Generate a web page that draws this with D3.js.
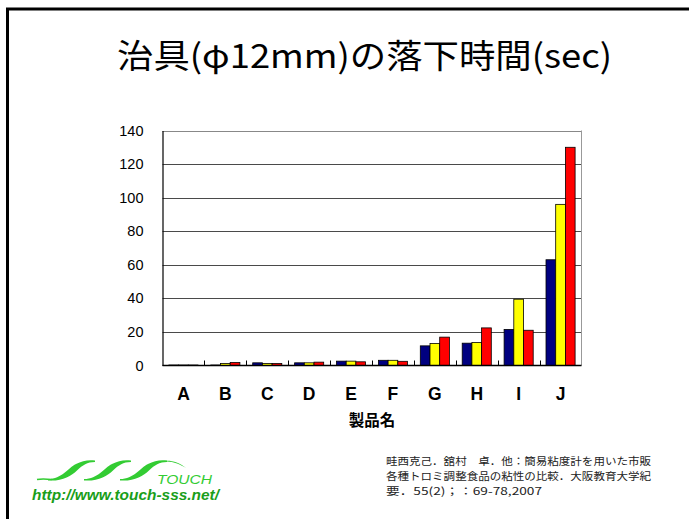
<!DOCTYPE html>
<html>
<head>
<meta charset="utf-8">
<script src="https://cdn.jsdelivr.net/npm/d3@7"></script>
<style>
  html, body { margin: 0; padding: 0; background: #fff; }
  svg { display: block; }
</style>
</head>
<body>
<svg id="chart" width="689" height="519"></svg>
<script>
// Products and the three measured drop times (sec) for each
const categories = ["A", "B", "C", "D", "E", "F", "G", "H", "I", "J"];
const seriesNames = ["系列1", "系列2", "系列3"];
const series1 = [0.3, 0.3, 1.6, 1.6, 2.6, 3.1, 11.7, 13.3, 21.5, 63];
const series2 = [0.3, 1.2, 1.2, 1.6, 2.6, 3.1, 13.1, 13.7, 39.5, 96];
const series3 = [0.3, 1.8, 1.2, 2.0, 2.2, 2.5, 16.9, 22.4, 21, 130];
const seriesColors = ["#000080", "#ffff00", "#ff0000"];
const yTicks = [0, 20, 40, 60, 80, 100, 120, 140];

const titleText = "治具(φ12mm)の落下時間(sec)";
const xAxisTitle = "製品名";
const citation = [
  "畦西克己．舘村　卓．他：簡易粘度計を用いた市販",
  "各種トロミ調整食品の粘性の比較．大阪教育大学紀",
  "要．55(2)；：69-78,2007"
];
const citationWidths = [265, 265, 156];
const url = "http://www.touch-sss.net/";

(function draw() {
  const rows = categories.map((c, i) => ({
    category: c,
    values: [series1[i], series2[i], series3[i]].map((v, k) => ({ key: seriesNames[k], value: v, k }))
  }));

  const svg = d3.select("#chart");

  // slide frame (top and left edges)
  svg.append("path")
    .attr("d", "M7.5,519 L7.5,9 L689,9")
    .attr("fill", "none").attr("stroke", "#000").attr("stroke-width", 3);

  // title
  svg.append("text")
    .attr("x", 364.5).attr("y", 68)
    .attr("text-anchor", "middle")
    .attr("font-family", "'Noto Sans CJK JP', sans-serif")
    .attr("font-size", 33)
    .attr("textLength", 495).attr("lengthAdjust", "spacingAndGlyphs")
    .attr("fill", "#000")
    .text(titleText);

  // plot area
  const pLeft = 162.5, pRight = 581.5, pTop = 130.5, pBottom = 365.5;

  const y = d3.scaleLinear().domain([0, 140]).range([pBottom, pTop]);
  const x0 = d3.scaleBand().domain(categories).range([pLeft, pRight]).padding(0);
  const x1 = d3.scaleBand().domain(seriesNames).range([0, x0.bandwidth()])
    .paddingInner(0).paddingOuter(0.66);

  const g = svg.append("g");

  // horizontal gridlines
  g.selectAll("line.grid").data(yTicks.filter(t => t > 0)).join("line")
    .attr("class", "grid")
    .attr("x1", pLeft).attr("x2", pRight)
    .attr("y1", d => Math.round(y(d)) + 0.5).attr("y2", d => Math.round(y(d)) + 0.5)
    .attr("stroke", d => d === 140 ? "#888" : "#4a4a4a").attr("stroke-width", 1);

  // right border of plot
  g.append("line")
    .attr("x1", pRight).attr("x2", pRight).attr("y1", pTop).attr("y2", pBottom)
    .attr("stroke", "#999").attr("stroke-width", 1);

  // bars
  const groups = g.selectAll("g.cat").data(rows).join("g")
    .attr("class", "cat")
    .attr("transform", d => `translate(${x0(d.category)},0)`);

  groups.selectAll("rect").data(d => d.values).join("rect")
    .attr("x", d => x1(d.key))
    .attr("width", x1.bandwidth())
    .attr("y", d => y(d.value))
    .attr("height", d => y(0) - y(d.value))
    .attr("fill", d => seriesColors[d.k])
    .attr("stroke", "#000").attr("stroke-width", 0.8);

  // y axis (labels with the axis line)
  const yAxis = d3.axisLeft(y).tickValues(yTicks).tickSize(0).tickPadding(19);
  const yg = g.append("g").attr("transform", `translate(${pLeft},0)`).call(yAxis);
  yg.select(".domain").attr("stroke", "#000").attr("stroke-width", 1.2);
  yg.selectAll("text")
    .attr("font-family", "'Liberation Sans', Arial, sans-serif")
    .attr("font-size", 14.5)
    .attr("fill", "#000");

  // x axis: line with inward ticks at category boundaries
  g.append("line")
    .attr("x1", pLeft).attr("x2", pRight).attr("y1", pBottom).attr("y2", pBottom)
    .attr("stroke", "#000").attr("stroke-width", 1.5);
  const boundaries = categories.slice(1).map(c => x0(c));
  g.selectAll("line.xtick").data(boundaries).join("line")
    .attr("class", "xtick")
    .attr("x1", d => Math.round(d) + 0.5).attr("x2", d => Math.round(d) + 0.5)
    .attr("y1", pBottom).attr("y2", pBottom - 5)
    .attr("stroke", "#000").attr("stroke-width", 1);

  g.selectAll("text.xlab").data(categories).join("text")
    .attr("class", "xlab")
    .attr("x", d => x0(d) + x0.bandwidth() / 2)
    .attr("y", 400)
    .attr("text-anchor", "middle")
    .attr("font-family", "'Liberation Sans', Arial, sans-serif")
    .attr("font-weight", "bold")
    .attr("font-size", 17.5)
    .attr("fill", "#000")
    .text(d => d);

  svg.append("text")
    .attr("x", (pLeft + pRight) / 2).attr("y", 426)
    .attr("text-anchor", "middle")
    .attr("font-family", "'Noto Sans CJK JP', sans-serif")
    .attr("font-weight", "bold")
    .attr("font-size", 15.5)
    .attr("fill", "#000")
    .text(xAxisTitle);

  // citation
  svg.append("g").selectAll("text").data(citation).join("text")
    .attr("x", 386)
    .attr("y", (d, i) => 465 + i * 15)
    .attr("font-family", "'Noto Sans CJK JP', sans-serif")
    .attr("font-size", 10.5)
    .attr("textLength", (d, i) => citationWidths[i])
    .attr("lengthAdjust", "spacingAndGlyphs")
    .attr("fill", "#222")
    .text(d => d);

  // logo: green swoosh ribbons with TOUCH wordmark
  const green = "#33cc33";
  const logo = svg.append("g").attr("fill", green);
  const ribbon = x => `M${x},479 C${x + 14},479 ${x + 20},468 ${x + 28},464 ` +
    `C${x + 34},461 ${x + 40},459.5 ${x + 47},460.5 L${x + 47},462 ` +
    `C${x + 39},462 ${x + 35},465 ${x + 29},470.5 C${x + 23},476 ${x + 14},481.5 ${x},480.5 Z`;
  logo.selectAll("path.rib").data([48, 84, 120]).join("path")
    .attr("class", "rib")
    .attr("d", d => ribbon(d));
  // tail on the left and arc over the wordmark
  logo.append("path")
    .attr("d", "M37,479.5 C42,478.5 47,479 52,479.5")
    .attr("fill", "none").attr("stroke", green).attr("stroke-width", 1.6);
  logo.append("path")
    .attr("d", "M150,467 C160,459 174,458 186,468 C180,464 170,460 162,462 C157,463 153,465 150,467 Z");
  logo.append("text")
    .attr("x", 157).attr("y", 484)
    .attr("font-family", "'Liberation Sans', Arial, sans-serif")
    .attr("font-style", "italic")
    .attr("font-size", 12)
    .attr("textLength", 55).attr("lengthAdjust", "spacingAndGlyphs")
    .text("TOUCH");
  logo.append("text")
    .attr("x", 32).attr("y", 500)
    .attr("font-family", "'Liberation Sans', Arial, sans-serif")
    .attr("font-style", "italic")
    .attr("font-weight", "bold")
    .attr("font-size", 14)
    .attr("textLength", 187).attr("lengthAdjust", "spacingAndGlyphs")
    .attr("fill", "#1a9e1a")
    .text(url);
})();
</script>
</body>
</html>
